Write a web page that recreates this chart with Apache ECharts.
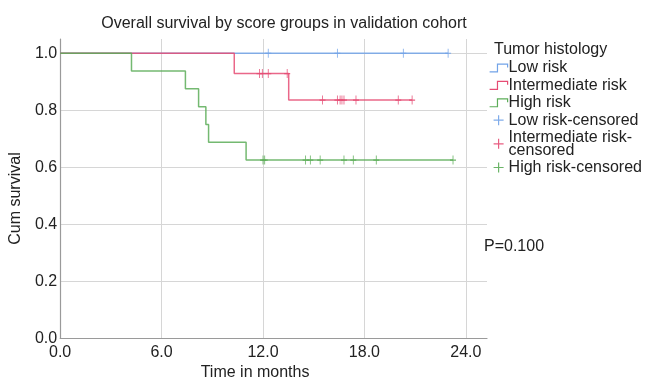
<!DOCTYPE html>
<html>
<head>
<meta charset="utf-8">
<script src="https://cdn.jsdelivr.net/npm/echarts@6/dist/echarts.min.js"></script>
<style>html,body{margin:0;padding:0;background:#fff}#c{width:646px;height:386px}</style>
</head>
<body>
<div id="c"></div>
<script>
// ---- Data ----
const lowTimes = [0, 22.95];
const lowSurv = [1, 1];
const lowCensTimes = [12.31, 16.4, 20.3, 22.95];
const lowCensSurv = [1, 1, 1, 1];

const intTimes = [0, 10.3, 13.52, 20.82];
const intSurv = [1, 0.9286, 0.8357, 0.8357];
const intCensTimes = [11.79, 11.96, 12.31, 13.43, 15.52, 16.4, 16.56, 16.67, 16.79, 17.5, 20.0, 20.82];
const intCensSurv = [0.9286, 0.9286, 0.9286, 0.9286, 0.8357, 0.8357, 0.8357, 0.8357, 0.8357, 0.8357, 0.8357, 0.8357];

const highTimes = [0, 4.22, 7.41, 8.19, 8.62, 8.78, 11.0, 23.24];
const highSurv = [1, 0.9375, 0.875, 0.8125, 0.75, 0.6875, 0.625, 0.625];
const highCensTimes = [12.0, 12.1, 14.52, 14.8, 15.38, 16.79, 17.34, 18.7, 23.24];
const highCensSurv = [0.625, 0.625, 0.625, 0.625, 0.625, 0.625, 0.625, 0.625, 0.625];

const seriesNames = ['Low risk', 'Intermediate risk', 'High risk', 'Low risk-censored', 'Intermediate risk-censored', 'High risk-censored'];
const xTicks = [0, 6, 12, 18, 24];
const yTicks = [0, 0.2, 0.4, 0.6, 0.8, 1.0];
const titleText = 'Overall survival by score groups in validation cohort';
const legendTitle = 'Tumor histology';
const pText = 'P=0.100';

// ---- Styles ----
const cBlue = '#72a3e8', cRed = '#e64c74', cGreen = '#5cad58';
const FONT = '"Liberation Sans", Arial, Helvetica, sans-serif';
const txt = '#222';
const zip = (a, b) => a.map((v, i) => [v, b[i]]);
const stepIcon = 'path://M0,9 L7,9 L7,2 L16,2 L16,5';
const plusIcon = 'path://M0,5 L10,5 M5,0 L5,10';

function lineSeries(name, t, s, color, z) {
  return {
    name, type: 'line', step: 'end', data: zip(t, s), symbol: 'none', z,
    lineStyle: { color, width: 1.5, opacity: 0.85 }, itemStyle: { color },
    animation: false
  };
}
function censSeries(name, t, s, color, z) {
  return {
    name, type: 'scatter', data: zip(t, s), symbol: plusIcon, symbolSize: [6, 9], z,
    itemStyle: { color: 'transparent', borderColor: color, borderWidth: 1, opacity: 0.9 },
    animation: false
  };
}

const chart = echarts.init(document.getElementById('c'), null, { renderer: 'canvas' });
const colors = [cBlue, cRed, cGreen, cBlue, cRed, cGreen];
chart.setOption({
  backgroundColor: '#fff',
  textStyle: { fontFamily: FONT },
  title: [
    { text: titleText, left: 279, top: 11, textAlign: 'center',
      textStyle: { fontFamily: FONT, fontSize: 16, fontWeight: 'normal', color: txt } },
    { text: legendTitle, left: 489, top: 37,
      textStyle: { fontFamily: FONT, fontSize: 16, fontWeight: 'normal', color: txt } },
    { text: pText, left: 479, top: 234,
      textStyle: { fontFamily: FONT, fontSize: 16, fontWeight: 'normal', color: txt } }
  ],
  grid: { left: 56, right: 159, top: 39, bottom: 42, containLabel: false },
  legend: {
    orient: 'vertical', left: 489, top: 60,
    itemWidth: 18, itemHeight: 10, itemGap: 1.4, padding: 0,
    selectedMode: false,
    textStyle: { fontFamily: FONT, fontSize: 16, color: txt, lineHeight: 12.5, padding: [0, 0, 0, -4] },
    formatter: n => n === 'Intermediate risk-censored' ? 'Intermediate risk-\ncensored' : n,
    data: seriesNames.map((n, i) => ({
      name: n, icon: i < 3 ? stepIcon : plusIcon,
      itemStyle: { color: 'transparent', borderColor: colors[i], borderWidth: 1.2 }
    }))
  },
  xAxis: {
    type: 'value', min: 0, max: 25.25, interval: 6,
    name: 'Time in months', nameLocation: 'middle', nameGap: 26,
    nameTextStyle: { fontFamily: FONT, fontSize: 16, color: txt, padding: [0, 37, 0, 0] },
    axisLine: { show: true, lineStyle: { color: '#9a9a9a', width: 1.2 } },
    axisTick: { show: false },
    axisLabel: { fontFamily: FONT, fontSize: 16, color: txt, margin: 6, showMaxLabel: false,
      formatter: v => xTicks.includes(v) ? v.toFixed(1) : '' },
    splitLine: { show: true, showMaxLine: false, lineStyle: { color: '#d6d6d6', width: 1 } }
  },
  yAxis: {
    type: 'value', min: 0, max: 1.05, interval: 0.2,
    name: 'Cum survival', nameLocation: 'middle', nameGap: 24,
    nameTextStyle: { fontFamily: FONT, fontSize: 16, color: txt, padding: [0, 20, 0, 0] },
    axisLine: { show: true, lineStyle: { color: '#9a9a9a', width: 1.2 } },
    axisTick: { show: false },
    axisLabel: { fontFamily: FONT, fontSize: 16, color: txt, margin: 3, showMaxLabel: false,
      formatter: v => yTicks.some(t => Math.abs(t - v) < 1e-9) ? v.toFixed(1) : '' },
    splitLine: { show: true, showMaxLine: false, lineStyle: { color: '#d6d6d6', width: 1 } }
  },
  series: [
    lineSeries(seriesNames[0], lowTimes, lowSurv, cBlue, 2),
    lineSeries(seriesNames[1], intTimes, intSurv, cRed, 3),
    lineSeries(seriesNames[2], highTimes, highSurv, cGreen, 4),
    censSeries(seriesNames[3], lowCensTimes, lowCensSurv, cBlue, 5),
    censSeries(seriesNames[4], intCensTimes, intCensSurv, cRed, 5),
    censSeries(seriesNames[5], highCensTimes, highCensSurv, cGreen, 5)
  ]
});
</script>
</body>
</html>
